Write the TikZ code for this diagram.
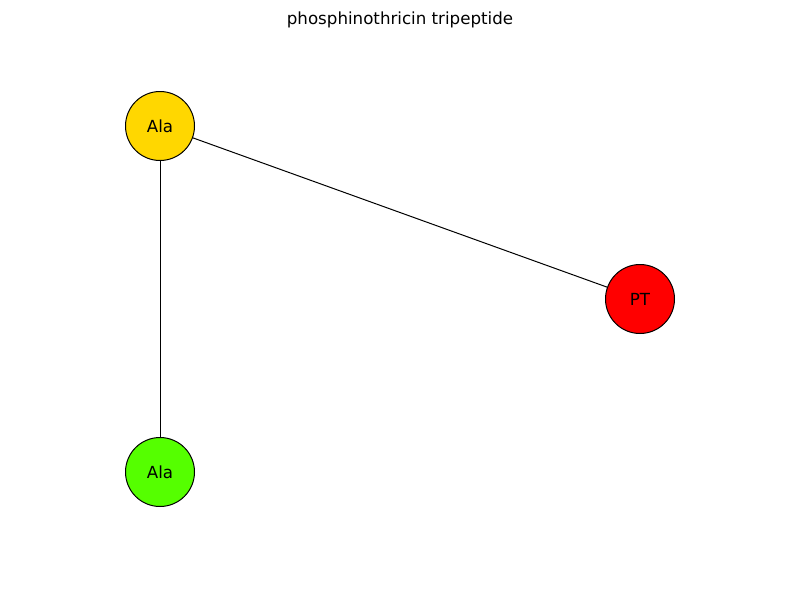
\documentclass[tikz,border=0pt]{standalone}
\usepackage{fontspec}
\setmainfont{DejaVu Sans}
\definecolor{alaA}{HTML}{FFD700}
\definecolor{alaB}{HTML}{55FF00}
\definecolor{ptcol}{HTML}{FF0000}
\begin{document}
\begin{tikzpicture}[x=0.75pt,y=-0.75pt,
  res/.style={circle,draw=black,line width=0.75pt,minimum size=51.75pt,inner sep=0pt,font=\fontsize{12.5}{14}\selectfont},
  bond/.style={draw=black,line width=0.75pt}]
\useasboundingbox (0,0) rectangle (800,600);
\node[font=\fontsize{12.5}{14}\selectfont] (title) at (400,20) {phosphinothricin tripeptide};
\node[res,fill=alaA] (a1) at (160,126) {Ala};
\node[res,fill=ptcol] (pt) at (640,299) {PT};
\node[res,fill=alaB] (a2) at (160,472) {Ala};
\draw[bond] (a1) -- (pt);
\draw[bond] (a1) -- (a2);
\end{tikzpicture}
\end{document}
